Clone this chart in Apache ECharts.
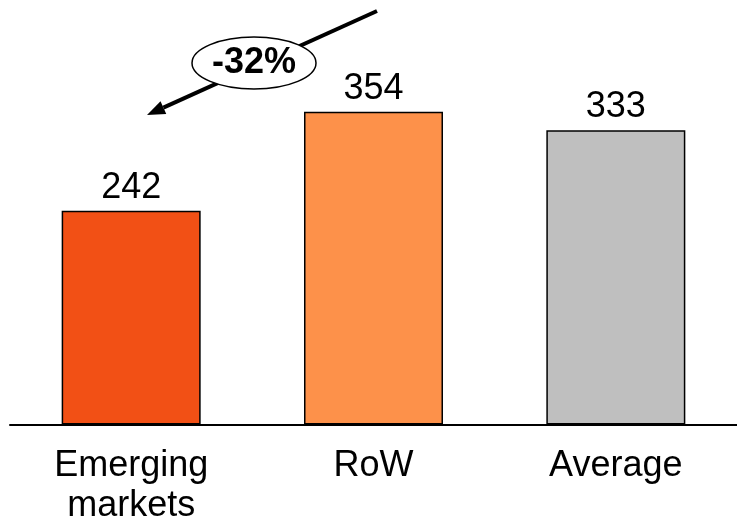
<!DOCTYPE html>
<html>
<head>
<meta charset="utf-8">
<script src="https://cdn.jsdelivr.net/npm/echarts@6/dist/echarts.min.js"></script>
<style>
html, body { margin: 0; padding: 0; background: #fff; }
#main { width: 737px; height: 532px; }
</style>
</head>
<body>
<div id="main"></div>
<script>
const categories = ['Emerging\nmarkets', 'RoW', 'Average'];
const values = [242, 354, 333];
const barColors = ['#F25015', '#FD914A', '#BFBFBF'];
const changeLabel = '-32%';

const chart = echarts.init(document.getElementById('main'));
const font = 'Liberation Sans, Arial, sans-serif';

// arrow from top right down towards the emerging markets bar
const start = [377, 11], tip = [147, 115];
const dx = tip[0] - start[0], dy = tip[1] - start[1];
const len = Math.sqrt(dx * dx + dy * dy);
const ux = dx / len, uy = dy / len;
const head = 18, half = 7;
const base = [tip[0] - ux * head, tip[1] - uy * head];

const option = {
    animation: false,
    grid: { left: 10, right: -6, top: 71, bottom: 107.5 },
    xAxis: {
        type: 'category',
        data: categories,
        axisTick: { show: false },
        axisLine: { lineStyle: { color: '#000', width: 2 } },
        axisLabel: {
            color: '#000',
            fontFamily: font,
            fontSize: 36,
            lineHeight: 40,
            margin: 22,
            interval: 0
        }
    },
    yAxis: {
        type: 'value',
        min: 0,
        max: 400,
        show: false,
        splitLine: { show: false }
    },
    series: [{
        type: 'bar',
        barWidth: 139,
        data: values.map((v, i) => ({
            value: v,
            itemStyle: { color: barColors[i] }
        })),
        itemStyle: { borderColor: '#000', borderWidth: 1.5 },
        label: {
            show: true,
            position: 'top',
            distance: 5,
            color: '#000',
            fontFamily: font,
            fontSize: 36
        }
    }],
    graphic: [
        {
            type: 'line',
            shape: { x1: start[0], y1: start[1], x2: base[0], y2: base[1] },
            style: { stroke: '#000', lineWidth: 4 }
        },
        {
            type: 'polygon',
            shape: {
                points: [
                    tip,
                    [base[0] - uy * half, base[1] + ux * half],
                    [base[0] + uy * half, base[1] - ux * half]
                ]
            },
            style: { fill: '#000' }
        },
        {
            type: 'ellipse',
            shape: { cx: 254, cy: 63, rx: 62, ry: 26 },
            style: { fill: '#fff', stroke: '#000', lineWidth: 1.5 }
        },
        {
            type: 'text',
            x: 254,
            y: 63,
            style: {
                text: changeLabel,
                fill: '#000',
                font: 'bold 36px ' + font,
                align: 'center',
                verticalAlign: 'middle'
            }
        }
    ]
};
chart.setOption(option);
</script>
</body>
</html>
